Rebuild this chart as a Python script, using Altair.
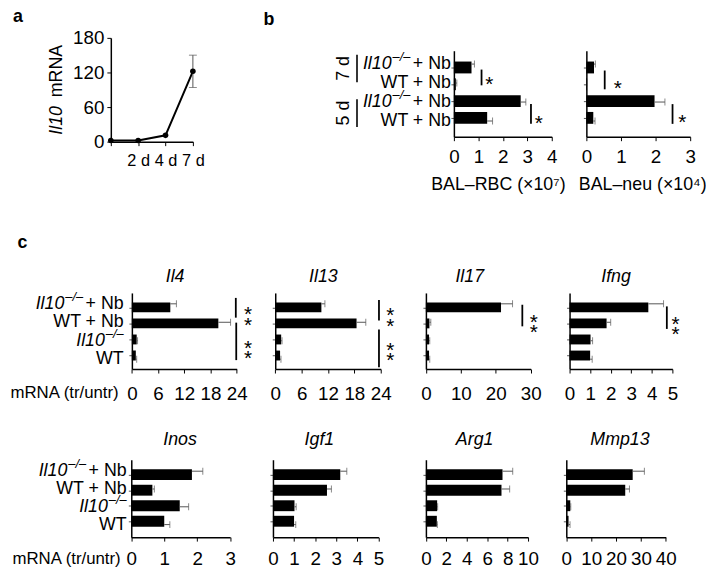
import json
import altair as alt
import pandas as pd

FONT = "Liberation Sans"
W, H = 706, 560
M = 8


def px(v):
    return v - M


# ---------------- data ----------------
a_day_labels = ["", "2 d", "4 d", "7 d"]
a_values = [2, 2, 11, 122]
a_errors = [0, 0, 0, 28]

b_labels = [("Il10", "–/–", "+ Nb"), ("", "", "WT + Nb"), ("Il10", "–/–", "+ Nb"), ("", "", "WT + Nb")]
b_days = ["7 d", "5 d"]
rbc_values = [0.72, 0.08, 2.73, 1.36]
rbc_errors = [0.12, 0.04, 0.21, 0.22]
neu_values = [0.22, 0.02, 1.97, 0.20]
neu_errors = [0.04, 0.01, 0.30, 0.05]

c_labels = [("Il10", "–/–", "+ Nb"), ("", "", "WT + Nb"), ("Il10", "–/–", ""), ("", "", "WT")]
genes_row1 = ["Il4", "Il13", "Il17", "Ifng"]
genes_row2 = ["Inos", "Igf1", "Arg1", "Mmp13"]
gene_values = {
    "Il4": [8.8, 19.8, 1.1, 0.9],
    "Il13": [10.5, 18.5, 1.35, 1.1],
    "Il17": [21.5, 1.0, 0.9, 0.9],
    "Ifng": [3.83, 1.8, 1.02, 1.0],
    "Inos": [1.84, 0.64, 1.47, 1.0],
    "Igf1": [3.19, 2.56, 1.02, 1.0],
    "Arg1": [7.5, 7.4, 1.1, 1.07],
    "Mmp13": [26.7, 23.7, 1.6, 0.9],
}
gene_errors = {
    "Il4": [1.4, 2.8, 0.2, 0.2],
    "Il13": [0.8, 2.1, 0.2, 0.2],
    "Il17": [3.3, 0.4, 0.2, 0.2],
    "Ifng": [0.74, 0.2, 0.1, 0.1],
    "Inos": [0.33, 0.06, 0.27, 0.17],
    "Igf1": [0.31, 0.21, 0.08, 0.08],
    "Arg1": [1.0, 0.8, 0.05, 0.05],
    "Mmp13": [4.7, 1.7, 0.2, 0.6],
}
x_max = {"Il4": 24, "Il13": 24, "Il17": 30, "Ifng": 5, "Inos": 3, "Igf1": 5,
         "Arg1": 10, "Mmp13": 40, "RBC": 4, "neu": 3}
x_step = {"Il4": 6, "Il13": 6, "Il17": 10, "Ifng": 1, "Inos": 1, "Igf1": 1,
          "Arg1": 2, "Mmp13": 10, "RBC": 1, "neu": 1}
# significance brackets (x, y_from, y_to) and asterisk groups (x, y, count), in data units
brackets = {
    "Il4": [(23.8, -0.32, 0.75), (23.9, 1.02, 3.05)],
    "Il13": [(23.6, -0.21, 0.91), (23.6, 1.39, 3.43)],
    "Il17": [(27.6, 0.05, 1.22)],
    "Ifng": [(4.73, 0.14, 1.36)],
    "RBC": [(1.13, 0.29, 1.12), (3.15, 2.11, 3.15)],
    "neu": [(0.53, 0.34, 1.33), (2.49, 2.11, 3.15)],
}
stars = {
    "Il4": [(26.6, 0.30, 2), (26.6, 2.13, 2)],
    "Il13": [(26.2, 0.365, 2), (26.2, 2.225, 2)],
    "Il17": [(30.9, 0.725, 2)],
    "Ifng": [(5.15, 0.83, 2)],
    "RBC": [(1.45, 0.81, 1), (3.47, 2.84, 1)],
    "neu": [(0.91, 1.02, 1), (2.77, 2.79, 1)],
}

# ---------------- layout (page pixels) ----------------
panel_x = {"Il4": (133.3, 239.3), "Il13": (278.3, 385), "Il17": (430.7, 536.7), "Ifng": (576, 680),
           "Inos": (132.7, 232.7), "Igf1": (276, 382.7), "Arg1": (430.7, 534), "Mmp13": (572.7, 673.3),
           "RBC": (459, 558), "neu": (593, 698)}
# top, bottom, first row centre, row step, bar thickness, label padding
row_geo = {
    "b": (48, 135, 61.5, 19.2, 12, 7),
    "c1": (293, 370, 304, 18.67, 10, 12),
    "c2": (461.7, 540, 473.3, 18, 11, 9),
}

LAB = 18
TICK = 19


def y_scale(geo):
    top, bottom, c0, step = geo[:4]
    return alt.Scale(domain=[(top - c0) / step, (bottom - c0) / step],
                     range=[px(top), px(bottom)], nice=False, zero=False)


def bar_panel(key, vals, errs, geo):
    top, bottom, c0, step, size, lpad = geo
    x0, x1 = panel_x[key]
    xs = alt.Scale(domain=[0, x_max[key]], range=[px(x0), px(x1)], nice=False, zero=False)
    ys = y_scale(geo)
    df = pd.DataFrame({"idx": list(range(len(vals))), "v": vals,
                       "hi": [v + e for v, e in zip(vals, errs)], "zero": [0] * len(vals)})
    xaxis = alt.Axis(orient="bottom", offset=px(bottom) - H,
                     values=list(range(0, x_max[key] + 1, x_step[key])),
                     tickSize=4, labelPadding=lpad, title=None, grid=False,
                     labelOverlap=False, labelFlush=False, format="d")
    yaxis = alt.Axis(orient="left", offset=-px(x0), values=[0, 1, 2, 3], labels=False,
                     tickSize=3, tickColor="#555", title=None, grid=False)
    base = alt.Chart(df)
    bars = base.mark_bar(orient="horizontal", size=size, color="black").encode(
        x=alt.X("zero:Q", scale=xs, axis=xaxis), x2="v:Q",
        y=alt.Y("idx:Q", scale=ys, axis=yaxis))
    err = base.mark_rule(color="#555", strokeWidth=1).encode(
        x=alt.X("v:Q", scale=xs, axis=None), x2="hi:Q",
        y=alt.Y("idx:Q", scale=ys, axis=None))
    caps = base.mark_tick(orient="vertical", size=7, thickness=1, color="#555").encode(
        x=alt.X("hi:Q", scale=xs, axis=None), y=alt.Y("idx:Q", scale=ys, axis=None))
    out = [bars, err, caps]
    if key in brackets:
        bdf = pd.DataFrame(brackets[key], columns=["bx", "by0", "by1"])
        out.append(alt.Chart(bdf).mark_rule(color="black", strokeWidth=1.8).encode(
            x=alt.X("bx:Q", scale=xs, axis=None),
            y=alt.Y("by0:Q", scale=ys, axis=None), y2="by1:Q"))
        sdf = pd.DataFrame(stars[key], columns=["sx", "sy", "n"])
        sdf["t"] = sdf["n"].map(lambda n: "\n".join(["*"] * int(n)))
        out.append(alt.Chart(sdf).mark_text(fontSize=21, dy=6, align="center", lineBreak="\n",
                                            lineHeight=10.5, baseline="middle", color="black").encode(
            x=alt.X("sx:Q", scale=xs, axis=None), y=alt.Y("sy:Q", scale=ys, axis=None), text="t:N"))
    return out


def row_labels(labels, X, geo):
    ys = y_scale(geo)
    reg, ital, sup = [], [], []
    for i, (gene, s, rest) in enumerate(labels):
        if rest:
            reg.append({"idx": i, "t": rest, "x": px(X)})
        if gene:
            xs_ = X - 41 if rest else X
            sup.append({"idx": i, "t": s, "x": px(xs_)})
            ital.append({"idx": i, "t": gene, "x": px(xs_ - 19)})
    out = []
    for rows, style, fs, dy in [(reg, "normal", LAB, 0), (ital, "italic", LAB, 0), (sup, "italic", 13, -7)]:
        out.append(alt.Chart(pd.DataFrame(rows)).mark_text(
            align="right", baseline="middle", fontSize=fs, fontStyle=style, dy=dy, color="black").encode(
            x=alt.X("x:Q", scale=None, axis=None), y=alt.Y("idx:Q", scale=ys, axis=None), text="t:N"))
    return out


layers = []

# ---- panel a ----
dfa = pd.DataFrame({"d": list(range(4)), "v": a_values, "err": a_errors,
                    "lo": [v - e for v, e in zip(a_values, a_errors)],
                    "hi": [v + e for v, e in zip(a_values, a_errors)]})
xs_a = alt.Scale(domain=[0, 3], range=[px(112), px(195)], nice=False, zero=False)
ys_a = alt.Scale(domain=[0, 180], range=[px(140), px(35)], nice=False, zero=False)
ax_a_x = alt.Axis(orient="bottom", offset=px(140) - H, values=[0, 1, 2, 3], tickSize=4,
                  labelPadding=7, title=None, grid=False, labelOverlap=False, labelFlush=False,
                  labelFontSize=16.5, labelExpr=json.dumps(a_day_labels) + "[datum.value]")
ax_a_y = alt.Axis(orient="left", offset=-px(112), values=[0, 60, 120, 180], tickSize=4,
                  labelPadding=3, title=None, grid=False, labelOverlap=False, labelFlush=False)
base_a = alt.Chart(dfa)
layers.append(base_a.mark_line(color="black", strokeWidth=2).encode(
    x=alt.X("d:Q", scale=xs_a, axis=ax_a_x), y=alt.Y("v:Q", scale=ys_a, axis=ax_a_y)))
err_a = base_a.transform_filter("datum.err > 0")
layers.append(err_a.mark_rule(color="#555", strokeWidth=1).encode(
    x=alt.X("d:Q", scale=xs_a, axis=None), y=alt.Y("lo:Q", scale=ys_a, axis=None), y2="hi:Q"))
for fld in ["hi", "lo"]:
    layers.append(err_a.mark_tick(orient="horizontal", size=8, thickness=1, color="#555").encode(
        x=alt.X("d:Q", scale=xs_a, axis=None), y=alt.Y(fld + ":Q", scale=ys_a, axis=None)))
layers.append(base_a.mark_circle(color="black", size=32, opacity=1).encode(
    x=alt.X("d:Q", scale=xs_a, axis=None), y=alt.Y("v:Q", scale=ys_a, axis=None)))

# ---- panel b ----
layers += bar_panel("RBC", rbc_values, rbc_errors, row_geo["b"])
ys_b = y_scale(row_geo["b"])
grp = pd.DataFrame({"t": b_days, "g0": [-0.49, 1.85], "g1": [0.96, 3.31], "gm": [0.23, 2.58]})
layers.append(alt.Chart(grp).mark_rule(color="black", strokeWidth=1.6).encode(
    x=alt.value(px(361)), y=alt.Y("g0:Q", scale=ys_b, axis=None), y2="g1:Q"))
layers.append(alt.Chart(grp).mark_text(angle=270, align="center", baseline="middle",
                                       fontSize=LAB, color="black").encode(
    x=alt.value(px(348)), y=alt.Y("gm:Q", scale=ys_b, axis=None), text="t:N"))
layers += bar_panel("neu", neu_values, neu_errors, row_geo["b"])
layers += row_labels(b_labels, 456, row_geo["b"])

# ---- panel c ----
for g in genes_row1:
    layers += bar_panel(g, gene_values[g], gene_errors[g], row_geo["c1"])
for g in genes_row2:
    layers += bar_panel(g, gene_values[g], gene_errors[g], row_geo["c2"])
layers += row_labels(c_labels, 125, row_geo["c1"])
layers += row_labels(c_labels, 128, row_geo["c2"])


# ---- free text ----
def text_layer(rows, **kw):
    df = pd.DataFrame(rows, columns=["t", "x", "y"])
    df["x"] = df["x"].map(px)
    df["y"] = df["y"].map(px)
    return alt.Chart(df).mark_text(color="black", **kw).encode(
        x=alt.X("x:Q", scale=None, axis=None), y=alt.Y("y:Q", scale=None, axis=None), text="t:N")


letters = [("a", 18, 14), ("b", 272, 16.5), ("c", 22.5, 243)]
gene_titles = [("Il4", 177, 277), ("Il13", 327, 277), ("Il17", 475, 277), ("Ifng", 623, 277),
               ("Inos", 182, 442), ("Igf1", 323, 442), ("Arg1", 480, 442), ("Mmp13", 627, 442)]
x_titles_right = [("mRNA (tr/untr)", 120, 394), ("mRNA (tr/untr)", 122, 562.5)]
x_titles_center = [("BAL–RBC (×10⁷)", 504, 183.5), ("BAL–neu (×10⁴)", 650, 183.5)]

layers.append(text_layer(letters, fontSize=18, fontWeight="bold", align="center", baseline="middle"))
layers.append(text_layer(gene_titles, fontSize=LAB, fontStyle="italic", align="center", baseline="middle"))
layers.append(text_layer(x_titles_right, fontSize=17, align="right", baseline="middle"))
layers.append(text_layer(x_titles_center, fontSize=LAB, align="center", baseline="middle"))
layers.append(text_layer([("Il10", 58, 133)], fontSize=LAB, fontStyle="italic", angle=270,
                         align="left", baseline="middle"))
layers.append(text_layer([("mRNA", 58, 95)], fontSize=LAB, angle=270, align="left", baseline="middle"))

chart = alt.layer(*layers).resolve_scale(x="independent", y="independent").properties(
    width=W, height=H, autosize=alt.AutoSizeParams(type="none"), padding=0
).configure_axis(
    labelFont=FONT, labelFontSize=TICK, labelColor="black", domainColor="black",
    tickColor="black", domainWidth=1.5, tickWidth=1, grid=False
).configure_text(font=FONT).configure_view(stroke=None)

chart.save("out.html", embed_options={"renderer": "svg", "actions": False})
